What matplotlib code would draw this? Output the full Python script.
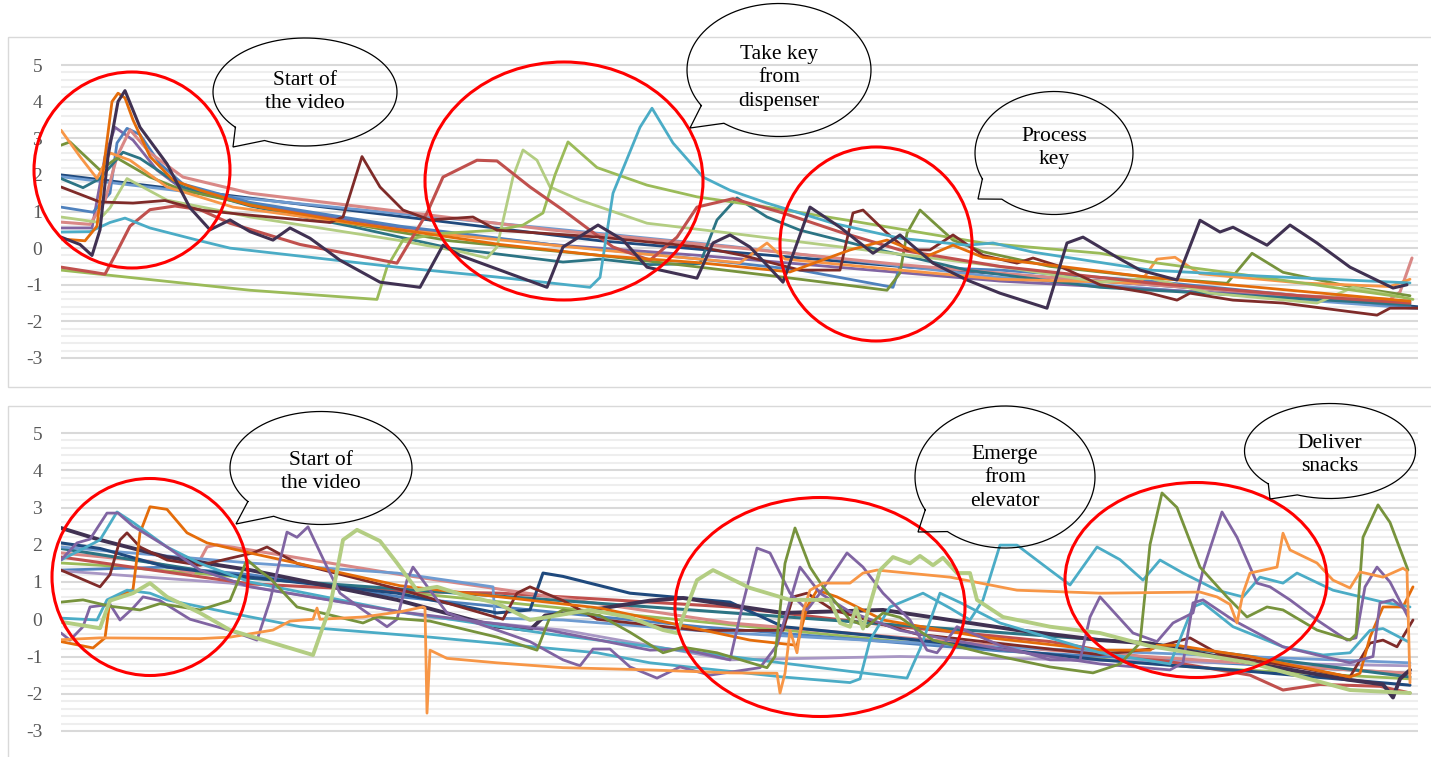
import numpy as np
import matplotlib
matplotlib.use("Agg")
import matplotlib.pyplot as plt
from matplotlib.patches import Ellipse, Rectangle

plt.rcParams["axes.unicode_minus"] = False
SERIF = "Liberation Serif"

# ---------------------------------------------------------------- colours
C_DPURPLE = "#403152"
C_BRORANGE = "#E46C0A"
C_ORANGE = "#F79646"
C_OLIVE = "#77933C"
C_TEAL = "#4BACC6"
C_GREEN = "#9BBB59"
C_PALE = "#B3CD82"
C_RED = "#C0504D"
C_DRED = "#7F2B29"
C_DTEAL = "#2C7484"
C_PURPLE = "#8064A2"
C_BLUE = "#4F81BD"
C_LBLUE = "#6E9BD1"
C_PINK = "#D98886"
C_NAVY = "#1F497D"
C_LAV = "#A897C4"

# ---------------------------------------------------------------- upper panel (video 1)
T_DPURPLE_X = [0, 19, 31, 39, 47, 57, 64, 79, 106, 129, 149, 169, 189, 212, 229, 249, 279, 319, 359, 382,
               399, 439, 486, 502, 537, 562, 586, 636, 652, 669, 689, 722, 749, 779, 812, 839, 872, 906, 939, 986,
               1006, 1022, 1056, 1079, 1116, 1139, 1159, 1172, 1206, 1229, 1256, 1289, 1332, 1346]
T_DPURPLE_Y = [0.3, 0.1, -0.2, 0.5, 2.5, 4.0, 4.3, 3.3, 2.3, 1.1, 0.5, 0.77, 0.45, 0.22, 0.55, 0.27, -0.33, -0.93, -1.07, 0.08,
               -0.2, -0.6, -1.07, 0.03, 0.63, 0.22, -0.52, -0.82, 0.14, 0.36, 0.03, -0.93, 1.12, 0.57, -0.14, 0.36, -0.41, -0.87, -1.23, -1.64,
               0.14, 0.3, -0.25, -0.6, -0.87, 0.76, 0.44, 0.57, 0.08, 0.63, 0.14, -0.52, -1.09, -1.0]

T_BRORANGE_X = [0, 24, 36, 44, 51, 57, 64, 72, 89, 112, 139, 189, 289, 439, 539, 639, 729, 789, 826, 866,
                892, 922, 1006, 1089, 1189, 1289, 1349]
T_BRORANGE_Y = [0.25, 0.2, 0.6, 2.5, 4.0, 4.23, 4.1, 3.5, 2.5, 1.86, 1.58, 1.17, 0.7, 0.1, -0.2, -0.4, -0.65, -0.05, 0.22, -0.22,
                0.08, -0.25, -0.52, -0.8, -1.05, -1.3, -1.45]

T_ORANGE_X = [0, 19, 36, 49, 69, 106, 172, 339, 539, 679, 706, 724, 839, 939, 1079, 1096, 1114, 1139, 1239, 1329, 1349]
T_ORANGE_Y = [3.22, 2.5, 1.9, 2.6, 2.4, 1.67, 1.12, 0.5, -0.05, -0.4, 0.14, -0.3, -0.6, -0.85, -0.95, -0.3, -0.25, -0.7, -0.95, -1.05, -0.85]

T_OLIVE_X = [0, 9, 39, 56, 89, 122, 239, 389, 539, 639, 739, 826, 839, 846, 859, 892, 922, 989, 1089, 1166,
             1191, 1222, 1289, 1349]
T_OLIVE_Y = [2.81, 2.9, 2.13, 2.46, 1.94, 1.58, 0.9, 0.2, -0.2, -0.52, -0.85, -1.15, -0.68, 0.41, 1.04, 0.22, -0.1, -0.5, -0.8, -0.96,
             -0.14, -0.66, -1.05, -1.3]

T_TEAL_X = [0, 29, 49, 64, 89, 139, 169, 336, 436, 529, 539, 552, 579, 591, 612, 642, 669, 706, 772, 839,
            906, 932, 972, 1089, 1189, 1349]
T_TEAL_Y = [0.44, 0.45, 0.7, 0.82, 0.55, 0.2, 0.0, -0.52, -0.79, -1.07, -0.8, 1.5, 3.3, 3.82, 2.87, 1.94, 1.58, 1.23, 0.68, 0.27,
            0.08, 0.14, -0.11, -0.6, -0.75, -0.95]

T_GREEN_X = [0, 189, 316, 326, 342, 379, 436, 462, 482, 494, 507, 536, 586, 636, 699, 789, 922, 1039, 1089, 1189, 1339, 1352]
T_GREEN_Y = [-0.6, -1.15, -1.4, -0.52, 0.22, 0.4, 0.49, 0.63, 0.96, 2.0, 2.9, 2.2, 1.72, 1.4, 1.15, 0.75, 0.14, -0.14, -0.38, -0.75, -1.33, -1.4]

T_PALE_X = [0, 36, 49, 66, 106, 156, 189, 336, 402, 426, 436, 452, 462, 476, 489, 519, 586, 669, 789, 939,
            1039, 1089, 1149, 1256, 1292, 1339]
T_PALE_Y = [0.85, 0.71, 1.1, 1.9, 1.31, 1.04, 0.85, 0.22, -0.11, -0.27, 0.03, 1.94, 2.68, 2.4, 1.67, 1.31, 0.68, 0.41, 0.0, -0.5,
            -0.93, -0.82, -1.23, -1.5, -1.07, -1.33]

T_RED_X = [0, 44, 54, 69, 89, 114, 139, 169, 239, 336, 366, 382, 416, 436, 469, 502, 529, 552, 589, 616,
           636, 672, 722, 779, 839, 939, 1089, 1239, 1349]
T_RED_Y = [-0.52, -0.71, -0.2, 0.6, 1.05, 1.15, 1.05, 0.68, 0.1, -0.41, 0.96, 1.94, 2.4, 2.38, 1.67, 1.04, 0.49, 0.03, -0.33, 0.3,
           1.12, 1.35, 0.96, 0.44, -0.05, -0.5, -0.95, -1.3, -1.5]

T_DRED_X = [0, 39, 72, 104, 139, 189, 269, 282, 301, 319, 342, 369, 412, 436, 539, 639, 682, 739, 779, 792,
            802, 826, 846, 869, 892, 922, 956, 972, 999, 1039, 1089, 1116, 1129, 1172, 1222, 1316, 1329, 1357]
T_DRED_Y = [1.67, 1.26, 1.23, 1.3, 1.04, 0.9, 0.7, 0.85, 2.5, 1.67, 1.04, 0.77, 0.85, 0.49, 0.3, 0.03, -0.2, -0.6, -0.6, 0.96,
            1.04, 0.41, -0.05, -0.05, 0.36, -0.2, -0.41, -0.27, -0.5, -1.0, -1.23, -1.42, -1.23, -1.42, -1.5, -1.83, -1.64, -1.64]

T_DTEAL_X = [0, 22, 39, 62, 79, 122, 189, 289, 389, 502, 539, 589, 639, 656, 676, 706, 739, 806, 906, 1039, 1189, 1349]
T_DTEAL_Y = [1.9, 1.65, 1.9, 2.62, 2.45, 1.67, 1.15, 0.6, 0.0, -0.38, -0.3, -0.45, -0.42, 0.77, 1.37, 0.85, 0.49, 0.03, -0.6, -1.07, -1.3, -1.55]

T_PURPLE_X = [0, 31, 44, 54, 72, 96, 122, 189, 339, 489, 639, 789, 939, 1139, 1349]
T_PURPLE_Y = [0.55, 0.55, 2.5, 3.3, 2.95, 2.13, 1.6, 1.2, 0.55, 0.1, -0.2, -0.55, -0.9, -1.2, -1.45]

T_BLUE_X = [0, 32, 49, 56, 66, 79, 99, 122, 189, 339, 489, 639, 739, 832, 839, 939, 1089, 1239, 1349]
T_BLUE_Y = [1.12, 0.98, 1.5, 2.87, 3.27, 3.1, 2.3, 1.75, 1.25, 0.6, 0.1, -0.3, -0.6, -1.07, -0.5, -0.6, -0.9, -1.3, -1.6]

T_PINK_X = [0, 29, 44, 56, 69, 89, 122, 189, 339, 489, 669, 839, 989, 1139, 1239, 1329, 1339, 1351]
T_PINK_Y = [0.71, 0.65, 1.3, 2.5, 3.23, 2.6, 1.94, 1.5, 1.0, 0.5, 0.03, -0.45, -0.8, -1.1, -1.3, -1.4, -1.2, -0.27]

T_NAVY_X = [0, 239, 539, 839, 1139, 1357]
T_NAVY_Y = [2.0, 1.2, 0.2, -0.5, -1.1, -1.6]

T_LBLUE_X = [0, 169, 669, 939, 1357]
T_LBLUE_Y = [1.95, 1.4, 0.05, -0.8, -1.65]

# ---------------------------------------------------------------- lower panel (video 2)
B_DPURPLE_X = [0, 39, 106, 189, 336, 436, 469, 484, 519, 589, 622, 722, 822, 889, 956, 1039, 1089, 1189, 1289, 1322, 1332, 1339, 1349]
B_DPURPLE_Y = [2.45, 2.13, 1.67, 1.32, 0.52, -0.2, -0.29, 0.1, 0.2, 0.5, 0.57, 0.17, 0.25, -0.02, -0.29, -0.56, -0.65, -1.17, -1.63, -1.75, -2.1, -1.6, -1.36]

B_NAVY_X = [0, 39, 106, 189, 336, 436, 469, 482, 502, 569, 669, 722, 856, 1039, 1189, 1349]
B_NAVY_Y = [2.05, 1.9, 1.4, 1.13, 0.7, 0.17, 0.25, 1.24, 1.15, 0.7, 0.46, -0.2, -0.56, -1.09, -1.4, -1.77]

B_DTEAL_X = [0, 189, 589, 1089, 1349]
B_DTEAL_Y = [1.9, 1.1, 0.33, -0.65, -1.55]

B_LBLUE_X = [0, 189, 336, 432, 434, 502, 669, 939, 1349]
B_LBLUE_Y = [1.94, 1.51, 1.24, 0.87, 0.03, -0.02, -0.37, -0.75, -1.17]

B_TEAL_X = [0, 36, 46, 66, 89, 106, 169, 239, 369, 536, 589, 722, 789, 799, 809, 829, 862, 889, 909, 922,
            939, 956, 989, 1009, 1036, 1059, 1082, 1099, 1122, 1156, 1182, 1199, 1222, 1236, 1272, 1322, 1349]
B_TEAL_Y = [0.03, -0.02, 0.52, 0.78, 0.7, 0.52, 0.17, -0.2, -0.48, -0.9, -1.17, -1.55, -1.7, -1.6, -0.56, 0.33, 0.7, 0.3, -0.02, 0.52,
            1.99, 1.99, 1.32, 0.92, 1.94, 1.6, 1.05, 1.59, 1.24, 0.78, 0.6, 1.13, 0.97, 1.24, 0.78, 0.46, 0.33]

B_TEAL2_X = [0, 39, 56, 72, 106, 139, 189, 339, 489, 639, 789, 846, 859, 879, 899, 939, 1039, 1109, 1132, 1142,
             1172, 1222, 1262, 1289, 1309, 1322, 1347]
B_TEAL2_Y = [1.59, 2.13, 2.88, 2.6, 1.94, 1.5, 1.0, 0.2, -0.4, -0.9, -1.4, -1.58, -0.8, 0.7, 0.45, -0.1, -0.9, -1.2, 0.33, 0.44,
             -0.2, -0.74, -0.96, -0.9, -0.3, -0.25, -0.6]

B_ORANGE_X = [0, 39, 139, 169, 212, 229, 252, 256, 259, 302, 339, 362, 364, 366, 369, 386, 436, 502, 589, 669,
              716, 719, 724, 729, 736, 742, 749, 762, 789, 802, 816, 889, 956, 1039, 1139, 1156, 1169, 1176, 1182, 1189,
              1216, 1222, 1229, 1256, 1272, 1289, 1299, 1322, 1342, 1346, 1349]
B_ORANGE_Y = [-0.55, -0.5, -0.52, -0.48, -0.29, -0.05, 0.0, 0.3, 0.0, 0.06, 0.2, 0.33, 0.3, -2.52, -0.83, -1.05, -1.17, -1.3, -1.36, -1.44,
              -1.45, -1.98, -1.45, -0.3, -0.9, 0.2, 0.78, 0.97, 0.97, 1.24, 1.32, 1.13, 0.78, 0.7, 0.73, 0.6, 0.4, -0.1, 0.7, 1.24,
              1.4, 2.31, 1.86, 1.51, 1.05, 0.84, 1.27, 1.13, 1.37, 1.3, -1.71]

B_PALE_X = [0, 39, 49, 72, 89, 106, 139, 169, 252, 269, 282, 296, 319, 336, 356, 376, 402, 436, 469, 529,
            569, 602, 616, 636, 652, 689, 729, 769, 779, 789, 795, 802, 819, 832, 849, 859, 872, 882, 896, 909,
            916, 942, 989, 1039, 1089, 1189, 1289, 1349]
B_PALE_Y = [-0.07, -0.24, 0.5, 0.7, 0.97, 0.6, 0.17, -0.29, -0.96, 0.33, 2.13, 2.4, 2.1, 1.51, 0.78, 0.87, 0.65, 0.43, -0.02, 0.25,
            0.05, -0.29, -0.37, 1.05, 1.32, 0.84, 0.52, 0.52, -0.1, -0.2, 0.3, -0.25, 1.32, 1.67, 1.5, 1.7, 1.45, 1.65, 1.24, 1.24,
            0.52, 0.06, -0.2, -0.37, -0.72, -1.17, -1.9, -1.98]

B_OLIVE_X = [0, 22, 49, 79, 99, 139, 169, 186, 199, 209, 236, 302, 316, 369, 436, 476, 489, 502, 539, 569,
             602, 622, 656, 706, 714, 724, 734, 749, 762, 789, 806, 822, 839, 872, 922, 989, 1032, 1059, 1079, 1089,
             1101, 1116, 1139, 1166, 1186, 1206, 1222, 1256, 1289, 1295, 1302, 1317, 1329, 1347]
B_OLIVE_Y = [0.46, 0.52, 0.35, 0.25, 0.42, 0.25, 0.5, 1.6, 1.3, 1.1, 0.33, -0.1, 0.06, -0.05, -0.48, -0.83, 0.06, 0.25, 0.1, -0.35,
             -0.9, -0.75, -0.9, -1.3, -1.0, 1.5, 2.45, 1.4, 0.87, -0.02, -0.2, 0.17, 0.05, -0.56, -0.9, -1.28, -1.44, -1.2, -0.64, 2.0,
             3.39, 3.0, 1.4, 0.6, 0.06, 0.33, 0.25, -0.29, -0.56, -0.4, 2.2, 3.07, 2.6, 1.32]

B_PURPA_X = [0, 16, 29, 46, 57, 72, 106, 139, 189, 339, 489, 589, 622, 669, 682, 696, 709, 729, 746, 759,
             786, 802, 822, 849, 866, 876, 896, 939, 989, 1019, 1029, 1039, 1072, 1096, 1112, 1132, 1142, 1161, 1176, 1196,
             1209, 1229, 1256, 1286, 1295, 1304, 1316, 1329, 1347]
B_PURPA_Y = [1.59, 2.05, 2.15, 2.85, 2.85, 2.5, 1.94, 1.32, 0.87, 0.2, -0.3, -0.83, -0.8, -1.09, 0.43, 1.91, 1.78, 0.7, 0.25, 0.7,
             1.78, 1.4, 0.7, -0.02, -0.83, -0.9, -0.2, -0.7, -1.09, -1.1, 0.06, 0.6, -0.37, -0.6, -0.1, 0.17, 1.32, 2.88, 2.2, 0.97,
             0.87, 0.52, -0.02, -0.56, -0.5, 0.87, 1.4, 1.0, 0.06]

B_PURPB_X = [0, 9, 22, 29, 49, 59, 72, 82, 99, 129, 169, 196, 209, 226, 236, 247, 266, 279, 302, 326,
             336, 346, 352, 369, 386, 436, 469, 502, 519, 532, 549, 569, 596, 619, 649, 699, 716, 739, 759, 789,
             839, 939, 1039, 1109, 1122, 1132, 1142, 1172, 1222, 1289, 1312, 1319, 1332, 1347]
B_PURPB_Y = [-0.37, -0.56, -0.2, 0.33, 0.4, -0.02, 0.3, 0.6, 0.5, 0.0, -0.3, -0.56, 0.5, 2.34, 2.2, 2.48, 1.4, 0.7, 0.25, -0.2,
             0.0, 1.05, 1.4, 0.78, 0.17, -0.29, -0.6, -1.09, -1.25, -0.8, -0.8, -1.28, -1.58, -1.28, -1.5, -1.3, -0.7, 1.4, 0.7, 0.2,
             -0.3, -0.8, -1.2, -1.36, -1.17, 0.44, 0.52, -0.02, -0.74, -1.17, -1.0, 0.44, 0.52, 0.2]

B_DRED_X = [0, 39, 49, 59, 66, 79, 106, 139, 192, 206, 236, 339, 442, 456, 469, 502, 536, 639, 722, 732,
            746, 772, 856, 1039, 1089, 1129, 1159, 1239, 1289, 1309, 1322, 1336, 1352]
B_DRED_Y = [1.32, 0.87, 1.2, 2.13, 2.32, 1.94, 1.59, 1.45, 1.78, 1.94, 1.5, 0.8, 0.0, 0.7, 0.87, 0.5, 0.0, -0.3, -0.3, 0.6,
            0.7, 0.25, -0.4, -0.95, -0.8, -0.5, -0.95, -1.3, -1.55, -0.64, -0.56, -0.74, -0.02]

B_BRORANGE_X = [0, 32, 44, 49, 72, 79, 89, 106, 126, 146, 189, 339, 539, 689, 736, 746, 756, 776, 822, 922,
                1039, 1089, 1096, 1116, 1139, 1189, 1289, 1299, 1309, 1322, 1342, 1352]
B_BRORANGE_Y = [-0.6, -0.77, -0.5, 0.52, 0.8, 2.32, 3.02, 2.95, 2.32, 2.05, 1.78, 0.9, 0.3, -0.56, -0.7, 0.33, 0.78, 0.6, -0.02, -0.48,
                -0.83, -0.83, -0.7, -0.7, -0.8, -1.0, -1.55, -1.45, -0.48, 0.33, 0.33, 0.87]

B_RED_X = [0, 189, 339, 439, 669, 839, 989, 1122, 1189, 1222, 1259, 1319, 1349]
B_RED_Y = [1.67, 0.95, 0.75, 0.7, 0.33, -0.2, -0.6, -1.2, -1.5, -1.9, -1.75, -1.8, -1.98]

B_PINK_X = [0, 89, 132, 146, 156, 189, 339, 669, 989, 1289, 1349]
B_PINK_Y = [1.78, 1.55, 1.24, 1.94, 2.0, 1.86, 1.2, -0.1, -0.83, -1.36, -1.45]

B_BLUE_X = [0, 39, 106, 189, 339, 639, 939, 1349]
B_BLUE_Y = [1.32, 1.35, 1.4, 1.2, 0.6, -0.2, -0.85, -1.45]

B_GREEN_X = [0, 39, 239, 539, 839, 1139, 1349]
B_GREEN_Y = [1.51, 1.45, 1.0, 0.2, -0.6, -1.3, -1.6]

B_LAV_X = [0, 169, 369, 502, 669, 839, 1039, 1349]
B_LAV_Y = [1.3, 0.97, 0.06, -0.29, -1.09, -1.0, -1.1, -1.25]

TOP_SERIES = [
    (T_NAVY_X, T_NAVY_Y, C_NAVY, 2.0),
    (T_LBLUE_X, T_LBLUE_Y, C_LBLUE, 2.0),
    (T_PURPLE_X, T_PURPLE_Y, C_PURPLE, 2.0),
    (T_BLUE_X, T_BLUE_Y, C_BLUE, 2.0),
    (T_PINK_X, T_PINK_Y, C_PINK, 2.2),
    (T_DTEAL_X, T_DTEAL_Y, C_DTEAL, 2.0),
    (T_OLIVE_X, T_OLIVE_Y, C_OLIVE, 2.0),
    (T_ORANGE_X, T_ORANGE_Y, C_ORANGE, 2.0),
    (T_PALE_X, T_PALE_Y, C_PALE, 2.0),
    (T_GREEN_X, T_GREEN_Y, C_GREEN, 2.0),
    (T_RED_X, T_RED_Y, C_RED, 2.2),
    (T_DRED_X, T_DRED_Y, C_DRED, 2.0),
    (T_TEAL_X, T_TEAL_Y, C_TEAL, 2.0),
    (T_BRORANGE_X, T_BRORANGE_Y, C_BRORANGE, 2.0),
    (T_DPURPLE_X, T_DPURPLE_Y, C_DPURPLE, 2.2),
]

BOTTOM_SERIES = [
    (B_GREEN_X, B_GREEN_Y, C_GREEN, 2.0),
    (B_BLUE_X, B_BLUE_Y, C_BLUE, 2.0),
    (B_LAV_X, B_LAV_Y, C_LAV, 2.0),
    (B_RED_X, B_RED_Y, C_RED, 2.2),
    (B_PINK_X, B_PINK_Y, C_PINK, 2.2),
    (B_DTEAL_X, B_DTEAL_Y, C_DTEAL, 2.2),
    (B_LBLUE_X, B_LBLUE_Y, C_LBLUE, 2.0),
    (B_NAVY_X, B_NAVY_Y, C_NAVY, 2.2),
    (B_DPURPLE_X, B_DPURPLE_Y, C_DPURPLE, 2.8),
    (B_DRED_X, B_DRED_Y, C_DRED, 2.0),
    (B_BRORANGE_X, B_BRORANGE_Y, C_BRORANGE, 2.0),
    (B_TEAL2_X, B_TEAL2_Y, C_TEAL, 2.0),
    (B_TEAL_X, B_TEAL_Y, C_TEAL, 2.0),
    (B_PURPB_X, B_PURPB_Y, C_PURPLE, 2.0),
    (B_PURPA_X, B_PURPA_Y, C_PURPLE, 2.0),
    (B_OLIVE_X, B_OLIVE_Y, C_OLIVE, 2.0),
    (B_ORANGE_X, B_ORANGE_Y, C_ORANGE, 2.0),
    (B_PALE_X, B_PALE_Y, C_PALE, 2.8),
]

Y_TICKS = [-3, -2, -1, 0, 1, 2, 3, 4, 5]
X_SPAN = 1357

# ---------------------------------------------------------------- figure
W, H = 1431, 757
fig = plt.figure(figsize=(W / 100, H / 100), dpi=100)
fig.patch.set_facecolor("white")

# pixel-space layer behind the plots (panel frames)
bg = fig.add_axes([0, 0, 1, 1], zorder=0)
bg.set_xlim(0, W)
bg.set_ylim(H, 0)
bg.axis("off")
bg.add_patch(Rectangle((7.5, 36.5), 1440, 350.5, fill=False, ec="#D9D9D9", lw=1.0))
bg.add_patch(Rectangle((7.5, 405.5), 1440, 400, fill=False, ec="#D9D9D9", lw=1.0))


def make_axes(py_five, px_per_unit):
    lo, hi = -3.1, 5.1
    top = py_five - (hi - 5) * px_per_unit
    bottom = py_five + (5 - lo) * px_per_unit
    ax = fig.add_axes([61 / W, 1 - bottom / H, X_SPAN / W, (bottom - top) / H], zorder=1)
    ax.set_facecolor("none")
    ax.set_xlim(0, X_SPAN)
    ax.set_ylim(lo, hi)
    ax.set_yticks(Y_TICKS)
    ax.set_yticks(np.arange(-3, 5.01, 0.2), minor=True)
    ax.set_xticks([])
    ax.grid(True, which="minor", axis="y", color="#EEEEEE", lw=1.5)
    ax.grid(True, which="major", axis="y", color="#D9D9D9", lw=1.5)
    ax.set_axisbelow(True)
    for s in ax.spines.values():
        s.set_visible(False)
    ax.tick_params(axis="y", which="both", length=0, pad=13.5, labelsize=14, labelcolor="#595959")
    for lab in ax.get_yticklabels():
        lab.set_fontfamily(SERIF)
    return ax


ax_top = make_axes(65, 36.625)
ax_bot = make_axes(433, 37.25)

for xs, ys, col, lw in TOP_SERIES:
    ax_top.plot(xs, ys, color=col, lw=lw, solid_joinstyle="round", solid_capstyle="round")
for xs, ys, col, lw in BOTTOM_SERIES:
    ax_bot.plot(xs, ys, color=col, lw=lw, solid_joinstyle="round", solid_capstyle="round")

# pixel-space layer in front (highlight rings and callouts)
ov = fig.add_axes([0, 0, 1, 1], zorder=5)
ov.set_xlim(0, W)
ov.set_ylim(H, 0)
ov.axis("off")

RINGS = [
    (132, 170, 196, 196),
    (564, 181, 278, 238),
    (876, 244, 192, 194),
    (150, 577, 196, 197),
    (820, 607, 290, 219),
    (1196, 580, 262, 195),
]
for cx, cy, w, h in RINGS:
    ov.add_patch(Ellipse((cx, cy), w, h, fill=False, ec="#FF0000", lw=2.2))


def callout(cx, cy, w, h, base1, tip, base2, label, ty):
    a, b = w / 2, h / 2
    t1 = np.arctan2((base1[1] - cy) / b, (base1[0] - cx) / a)
    t2 = np.arctan2((base2[1] - cy) / b, (base2[0] - cx) / a)
    two_pi = 2 * np.pi
    if (t2 - t1) % two_pi < np.pi:
        ts = np.linspace(t2, t2 + (t1 - t2) % two_pi, 400)
    else:
        ts = np.linspace(t1, t1 + (t2 - t1) % two_pi, 400)
    px = list(cx + a * np.cos(ts)) + [tip[0], cx + a * np.cos(ts[0])]
    py = list(cy + b * np.sin(ts)) + [tip[1], cy + b * np.sin(ts[0])]
    ov.plot(px, py, color="black", lw=0.9, solid_joinstyle="miter")
    ov.text(cx, ty, label, ha="center", va="center", fontsize=15.5, family=SERIF,
            linespacing=1.3, color="black")


callout(305, 92, 184, 108, (236, 127), (233, 147), (265, 140), "Start of\nthe video", 92)
callout(779, 70, 184, 133, (696, 108), (690, 128), (718, 129), "Take key\nfrom\ndispenser", 78)
callout(1054, 153, 158, 123, (985, 178), (978, 199), (1002, 199), "Process\nkey", 148)
callout(321, 468, 182, 113, (247, 502), (236, 524), (273, 517), "Start of\nthe video", 472)
callout(1005, 477, 180, 142, (925, 510), (918, 532), (947, 532), "Emerge\nfrom\nelevator", 478)
callout(1330, 451, 171, 95, (1270, 483), (1270, 499), (1298, 494), "Deliver\nsnacks", 455)

fig.savefig("out.png", dpi=100, facecolor="white")
